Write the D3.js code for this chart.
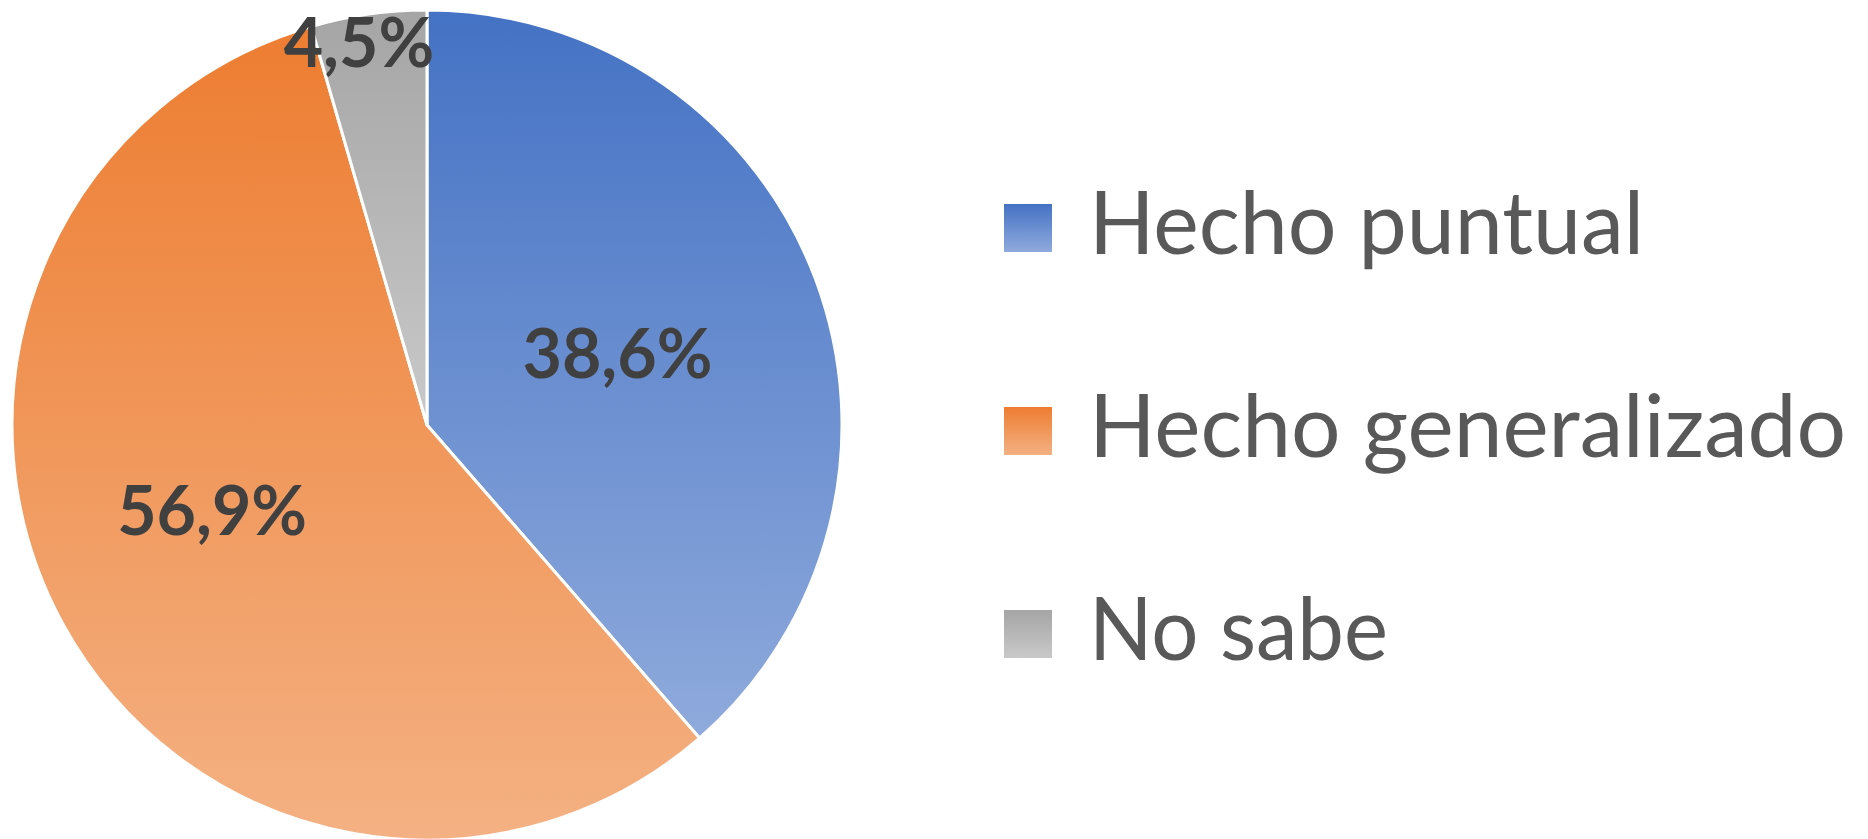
<!DOCTYPE html>
<html>
<head>
<meta charset="utf-8">
<script src="https://cdn.jsdelivr.net/npm/d3@7/dist/d3.min.js"></script>
<style>
  html, body { margin: 0; padding: 0; background: #ffffff; }
  svg { display: block; }
</style>
</head>
<body>
<svg id="chart" width="1868" height="839"></svg>
<script>
// ---- data ----
const categories = ["Hecho puntual", "Hecho generalizado", "No sabe"];
const values = [38.6, 56.9, 4.5];
const valueLabels = ["38,6%", "56,9%", "4,5%"];

// ---- style / layout ----
const gradTop = ["#4472C4", "#ED7D31", "#A5A5A5"];
const gradBottom = ["#8FAADC", "#F4B183", "#C9C9C9"];
const labelRadiusFactor = [0.49, 0.557, 0.935];
const labelAngleShift = [0, 0.122, -0.035];

const W = 1868, H = 839;
const cx = 427, cy = 425, R = 415;

const svg = d3.select("#chart");
const defs = svg.append("defs");

categories.forEach((c, i) => {
  const g = defs.append("linearGradient")
    .attr("id", "grad" + i)
    .attr("x1", 0).attr("y1", 0).attr("x2", 0).attr("y2", 1);
  g.append("stop").attr("offset", "0%").attr("stop-color", gradTop[i]);
  g.append("stop").attr("offset", "100%").attr("stop-color", gradBottom[i]);
});

const pie = d3.pie().sort(null).value(d => d.value);
const arcs = pie(categories.map((c, i) => ({ name: c, value: values[i], i })));

const arc = d3.arc().innerRadius(0).outerRadius(R);

const gPie = svg.append("g").attr("transform", `translate(${cx},${cy})`);

gPie.selectAll("path.slice")
  .data(arcs)
  .join("path")
  .attr("class", "slice")
  .attr("d", arc)
  .attr("fill", d => `url(#grad${d.data.i})`)
  .attr("stroke", "#ffffff")
  .attr("stroke-width", 3)
  .attr("stroke-linejoin", "miter");

gPie.selectAll("text.val")
  .data(arcs)
  .join("text")
  .attr("class", "val")
  .attr("transform", d => {
    const r = R * labelRadiusFactor[d.data.i];
    const a = (d.startAngle + d.endAngle) / 2 + labelAngleShift[d.data.i];
    const x = Math.sin(a) * r;
    const y = -Math.cos(a) * r;
    return `translate(${x},${y})`;
  })
  .attr("text-anchor", "middle")
  .attr("dy", "0.36em")
  .attr("font-family", "Lato, 'Open Sans', sans-serif")
  .attr("font-weight", "bold")
  .attr("font-size", 68)
  .attr("fill", "#404040")
  .text(d => valueLabels[d.data.i]);

// ---- legend ----
const legendY = d3.scalePoint().domain(categories).range([228, 634]);
const legend = svg.append("g");
const lg = legend.selectAll("g.item")
  .data(categories)
  .join("g")
  .attr("class", "item")
  .attr("transform", d => `translate(1004,${legendY(d)})`);

lg.append("rect")
  .attr("x", 0).attr("y", -24)
  .attr("width", 48).attr("height", 48)
  .attr("fill", (d, i) => `url(#grad${i})`);

const legendWidths = [555, 757, 299];
lg.append("text")
  .attr("x", 85)
  .attr("y", 26)
  .attr("font-family", "Lato, 'Open Sans', sans-serif")
  .attr("font-size", 88)
  .attr("fill", "#595959")
  .attr("textLength", (d, i) => legendWidths[i])
  .attr("lengthAdjust", "spacingAndGlyphs")
  .text(d => d);
</script>
</body>
</html>
